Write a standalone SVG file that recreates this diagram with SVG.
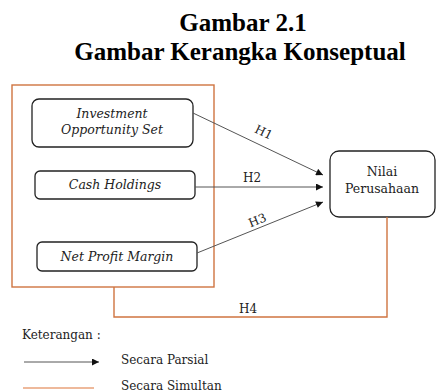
<svg xmlns="http://www.w3.org/2000/svg" width="437" height="392" viewBox="0 0 437 392">
<defs>
<style>
.title{font-family:"Liberation Serif","Times New Roman",serif;font-weight:bold;font-size:25px;fill:#000;text-anchor:middle}
.node{fill:#fff;stroke:#222;stroke-width:1.3}
.nt{font-family:"DejaVu Serif","Liberation Serif",serif;font-style:italic;font-size:12.5px;fill:#222;text-anchor:middle}
.nv{font-family:"DejaVu Serif","Liberation Serif",serif;font-size:12.5px;fill:#222;text-anchor:middle}
.lbl{font-family:"DejaVu Serif","Liberation Serif",serif;font-size:12px;fill:#222;text-anchor:middle}
.leg{font-family:"DejaVu Serif","Liberation Serif",serif;font-size:12px;fill:#222}
.arr{stroke:#555;stroke-width:1;fill:none;marker-end:url(#ah)}
.sim{stroke:#cf7440;stroke-width:1.4;fill:none}
</style>
<marker id="ah" viewBox="0 0 10 10" refX="10" refY="5" markerWidth="8" markerHeight="7" markerUnits="userSpaceOnUse" orient="auto">
<path d="M0,0 L10,5 L0,10 Z" fill="#111"/>
</marker>
</defs>
<rect width="437" height="392" fill="#fff"/>
<text class="title" x="243" y="31">Gambar 2.1</text>
<text class="title" x="240" y="60">Gambar Kerangka Konseptual</text>

<g id="simultan-box">
<rect class="sim" x="12" y="85" width="202" height="202"/>
</g>

<g id="ios">
<rect class="node" x="32" y="99" width="161" height="48" rx="7"/>
<text class="nt" x="112" y="118">Investment</text>
<text class="nt" x="112" y="134">Opportunity Set</text>
</g>
<g id="cash">
<rect class="node" x="35" y="171" width="160" height="28" rx="5"/>
<text class="nt" x="115" y="189">Cash Holdings</text>
</g>
<g id="npm">
<rect class="node" x="37" y="242" width="160" height="29" rx="5"/>
<text class="nt" x="117" y="261">Net Profit Margin</text>
</g>
<g id="nilai">
<rect class="node" x="330" y="151" width="105" height="66" rx="9"/>
<text class="nv" x="382" y="176">Nilai</text>
<text class="nv" x="382" y="193">Perusahaan</text>
</g>

<g id="connectors">
<line class="arr" x1="193" y1="113" x2="323" y2="175"/>
<line class="arr" x1="195" y1="187" x2="323" y2="187"/>
<line class="arr" x1="197" y1="253" x2="323" y2="202"/>
<polyline class="sim" points="114,287 114,317 387,317 387,217"/>
<text class="lbl" x="0" y="0" transform="translate(262,136) rotate(25.7)">H1</text>
<text class="lbl" x="252" y="182">H2</text>
<text class="lbl" x="0" y="0" transform="translate(259,224) rotate(-22)">H3</text>
<text class="lbl" x="248" y="313">H4</text>
</g>

<g id="legend">
<text class="leg" x="22" y="339">Keterangan :</text>
<line class="arr" x1="24" y1="362" x2="99" y2="362"/>
<text class="leg" x="121" y="364">Secara Parsial</text>
<line x1="23" y1="388" x2="94" y2="388" stroke="#e8a27a" stroke-width="1.5"/>
<text class="leg" x="121" y="390">Secara Simultan</text>
</g>
</svg>
